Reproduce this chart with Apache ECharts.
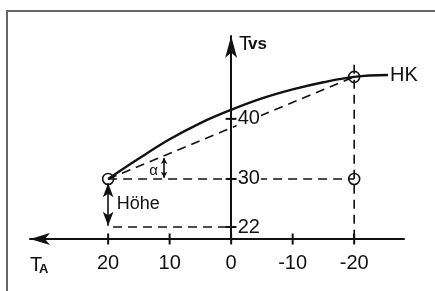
<!DOCTYPE html>
<html>
<head>
<meta charset="utf-8">
<script src="https://cdn.jsdelivr.net/npm/echarts@6/dist/echarts.min.js"></script>
<style>
  html, body { margin: 0; padding: 0; background: #fff; }
  #chartDiv { width: 435px; height: 291px; }
</style>
</head>
<body>
<div id="chartDiv"></div>
<script>
// Axis ticks
const xTicks = [20, 10, 0, -10, -20];
const yTicks = [22, 30, 40];

// Heizkurve HK (T_A -> T_VS)
const hkX = [20, 15, 10, 5, 0, -5, -10, -15, -20, -25.5];
const hkY = [30, 33.4, 36.6, 39.3, 41.5, 43.4, 44.9, 46.1, 47, 47.3];

// construction lines
const chordLine = [[20, 30], [-20, 47]];
const level30Line = [[20, 30], [-20, 30]];
const verticalM20 = [[-20, 49], [-20, 20]];
const level22Line = [[19.2, 22], [0, 22]];
const circlePoints = [[20, 30], [-20, 47], [-20, 30]];

// annotations
const hoeheArrow = [[20, 29.3], [20, 22.2]];
const alphaArrow = [[10.9, 33.5], [10.9, 30.2]];
const hoeheLabel = [15.1, 25.8];
const alphaLabel = [12.6, 31.4];
const hkLabel = [-25.5, 47.3];

const FONT = 'Liberation Sans';
const INK = '#111';

function initChart() {
    const chartDom = document.getElementById('chartDiv');
    const myChart = echarts.init(chartDom, null, { renderer: 'canvas' });

    const hkData = hkX.map((x, i) => [x, hkY[i]]);
    const dashed = { color: INK, width: 1.6, type: [9, 6] };

    const option = {
        backgroundColor: '#fff',
        animation: false,
        graphic: [
            {
                type: 'rect',
                shape: { x: 7, y: 11, width: 500, height: 400 },
                style: { fill: 'none', stroke: '#666', lineWidth: 2 },
                silent: true
            },
            { type: 'text', left: 239, top: 34, style: { text: 'T', font: '20px ' + FONT, fill: INK } },
            { type: 'text', left: 248, top: 36, style: { text: 'vs', font: 'bold 17px ' + FONT, fill: INK } },
            { type: 'text', left: 30, top: 255, style: { text: 'T', font: '20px ' + FONT, fill: INK } },
            { type: 'text', left: 39, top: 263, style: { text: 'A', font: 'bold 13px ' + FONT, fill: INK } }
        ],
        grid: { left: 30, right: 31, top: 36, bottom: 52 },
        xAxis: {
            type: 'value',
            min: -28.1,
            max: 32.7,
            inverse: true,
            splitLine: { show: false },
            axisTick: { show: false },
            axisLine: {
                onZero: false,
                symbol: ['arrow', 'none'],
                symbolSize: [9, 20],
                lineStyle: { color: INK, width: 2 }
            },
            axisLabel: {
                customValues: xTicks,
                margin: 14,
                fontSize: 20,
                fontFamily: FONT,
                color: INK
            }
        },
        yAxis: {
            type: 'value',
            min: 20,
            max: 53.8,
            splitLine: { show: false },
            axisTick: { show: false },
            axisLabel: { show: false },
            axisLine: {
                onZero: true,
                symbol: ['none', 'arrow'],
                symbolSize: [9, 22],
                lineStyle: { color: INK, width: 2 }
            }
        },
        series: [
            {
                name: 'chord',
                type: 'line',
                data: chordLine,
                symbol: 'none',
                lineStyle: dashed,
                silent: true
            },
            {
                name: 'level30',
                type: 'line',
                data: level30Line,
                symbol: 'none',
                lineStyle: dashed,
                silent: true
            },
            {
                name: 'vertM20',
                type: 'line',
                data: verticalM20,
                symbol: 'none',
                lineStyle: dashed,
                silent: true
            },
            {
                name: 'level22',
                type: 'line',
                data: level22Line,
                symbol: 'none',
                lineStyle: dashed,
                silent: true
            },
            {
                name: 'HK',
                type: 'line',
                data: hkData,
                smooth: 0.4,
                symbol: 'none',
                lineStyle: { color: INK, width: 2.4 },
                markLine: {
                    silent: true,
                    symbol: ['arrow', 'arrow'],
                    symbolSize: [8, 14],
                    label: { show: false },
                    lineStyle: { color: INK, width: 1.6, type: 'solid' },
                    data: [
                        [{ coord: hoeheArrow[0] }, { coord: hoeheArrow[1] }],
                        [{ coord: alphaArrow[0], symbolSize: [5, 6] }, { coord: alphaArrow[1], symbolSize: [5, 6] }]
                    ]
                }
            },
            {
                name: 'ticksX',
                type: 'scatter',
                data: xTicks.map(v => [v, 20]),
                symbol: 'rect',
                symbolSize: [2, 11],
                itemStyle: { color: INK, opacity: 1 },
                silent: true
            },
            {
                name: 'ticksY',
                type: 'scatter',
                data: yTicks.map(v => [0, v]),
                symbol: 'rect',
                symbolSize: [11, 2],
                itemStyle: { color: INK, opacity: 1 },
                label: {
                    show: true,
                    position: 'right',
                    distance: 0,
                    formatter: p => String(p.value[1]),
                    fontSize: 20,
                    fontFamily: FONT,
                    color: INK,
                    backgroundColor: '#fff',
                    padding: [0, 1, 0, 1]
                },
                silent: true,
                z: 6
            },
            {
                name: 'circles',
                type: 'scatter',
                data: circlePoints,
                symbol: 'circle',
                symbolSize: 11,
                itemStyle: { color: 'rgba(0,0,0,0)', borderColor: INK, borderWidth: 1.6, opacity: 1 },
                silent: true,
                z: 5
            },
            {
                name: 'labels',
                type: 'scatter',
                data: [
                    { value: hoeheLabel, label: { formatter: 'Höhe', fontSize: 18 } },
                    { value: alphaLabel, label: { formatter: 'α', fontSize: 15 } },
                    { value: hkLabel, label: { formatter: 'HK', fontSize: 20, position: 'right', distance: 2 } }
                ],
                symbolSize: 0,
                itemStyle: { opacity: 1 },
                label: {
                    show: true,
                    position: 'inside',
                    fontFamily: FONT,
                    color: INK
                },
                silent: true
            }
        ]
    };

    myChart.setOption(option);
}

initChart();
</script>
</body>
</html>
